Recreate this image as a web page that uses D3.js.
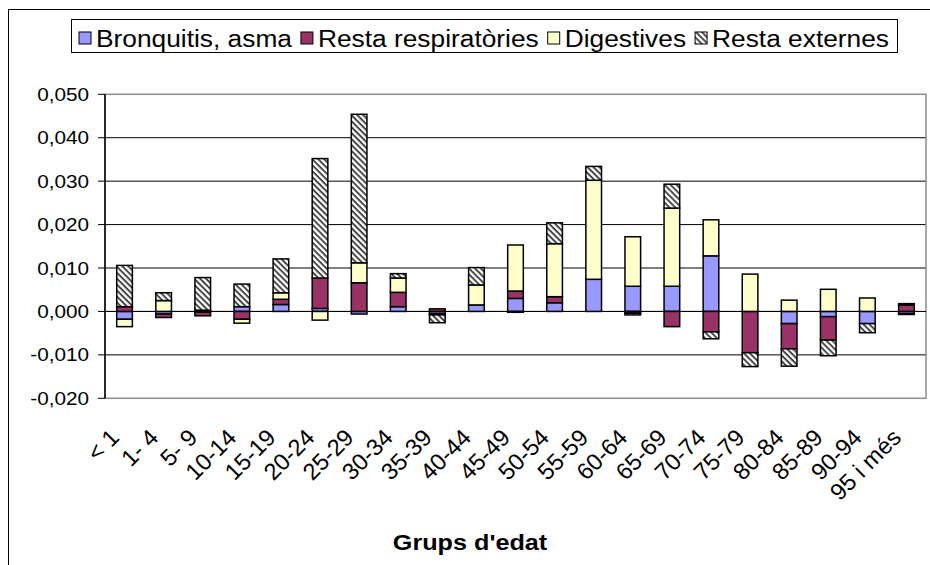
<!DOCTYPE html>
<html>
<head>
<meta charset="utf-8">
<title>Grups d'edat</title>
<script src="https://d3js.org/d3.v7.min.js"></script>
<style>
  body { margin: 0; background: #fff; }
  text { font-family: "Liberation Sans", Arial, sans-serif; fill: #000; }
</style>
</head>
<body>
<div id="chart"></div>
<script>
// age groups (x categories)
var grups = ["< 1", "1- 4", "5- 9", "10-14", "15-19", "20-24", "25-29", "30-34", "35-39", "40-44",
  "45-49", "50-54", "55-59", "60-64", "65-69", "70-74", "75-79", "80-84", "85-89", "90-94", "95 i més"];

// series values
var bronquitis = [-0.0018, -0.0006, -0.0002, 0.0011, 0.0016, 0.0007, -0.0006, 0.0011, -0.0005, 0.0015,
  0.0030, 0.0020, 0.0074, 0.0058, 0.0058, 0.0128, 0, -0.0028, -0.0012, -0.0028, -0.0005];
var respiratories = [0.0011, -0.0008, -0.0008, -0.0018, 0.0012, 0.0070, 0.0066, 0.0033, 0.0006, 0,
  0.0017, 0.0014, 0, -0.0004, -0.0035, -0.0047, -0.0095, -0.0058, -0.0054, 0, 0.0015];
var digestives = [-0.0017, 0.0025, 0.0003, -0.0009, 0.0015, -0.0020, 0.0046, 0.0033, -0.0003, 0.0046,
  0.0106, 0.0122, 0.0228, 0.0114, 0.0180, 0.0083, 0.0086, 0.0026, 0.0051, 0.0031, -0.0002];
var externes = [0.0095, 0.0018, 0.0075, 0.0052, 0.0078, 0.0275, 0.0342, 0.0010, -0.0018, 0.0040,
  -0.0002, 0.0048, 0.0032, -0.0004, 0.0055, -0.0016, -0.0032, -0.0040, -0.0036, -0.0021, 0.0003];

var seriesNames = ["Bronquitis, asma", "Resta respiratòries", "Digestives", "Resta externes"];
var yTicks = [-0.02, -0.01, 0, 0.01, 0.02, 0.03, 0.04, 0.05];

var width = 930, height = 565;
var plotL = 105, plotR = 926, plotT = 94.3, plotB = 398.3;
var stretch = 1.12; // the original text is a bit wider than it is tall

var keys = ["bronq", "resp", "dig", "ext"];
var fills = ["#9999ff", "#993366", "#ffffcc", "url(#hatch)"];

var rows = grups.map(function(g, i) {
  return { grup: g, bronq: bronquitis[i], resp: respiratories[i], dig: digestives[i], ext: externes[i] };
});
var stacked = d3.stack().keys(keys).offset(d3.stackOffsetDiverging)(rows);

var svg = d3.select("#chart").append("svg")
  .attr("width", width)
  .attr("height", height);

// hatch pattern for "Resta externes"
var defs = svg.append("defs");
var pat = defs.append("pattern")
  .attr("id", "hatch")
  .attr("patternUnits", "userSpaceOnUse")
  .attr("width", 4.2)
  .attr("height", 4.2)
  .attr("patternTransform", "rotate(45)");
pat.append("rect").attr("width", 4.2).attr("height", 4.2).attr("fill", "#fff");
pat.append("rect").attr("width", 4.2).attr("height", 1.9).attr("fill", "#444");

// outer chart border
svg.append("rect")
  .attr("x", 8.5).attr("y", 9.5)
  .attr("width", 1000).attr("height", 1000)
  .attr("fill", "none").attr("stroke", "#000");

var x = d3.scaleBand()
  .domain(grups)
  .range([plotL, plotR])
  .paddingInner(0.6)
  .paddingOuter(0.3);

var y = d3.scaleLinear()
  .domain([-0.02, 0.05])
  .range([plotB, plotT]);

var locale = d3.formatLocale({ decimal: ",", thousands: ".", grouping: [3], currency: ["", ""], minus: "-" });
var fmt = locale.format(".3f");

// gridlines
svg.append("g").selectAll("line")
  .data(yTicks.filter(function(t) { return t > -0.02 && t < 0.05; }))
  .enter().append("line")
  .attr("x1", plotL).attr("x2", plotR)
  .attr("y1", function(d) { return y(d); })
  .attr("y2", function(d) { return y(d); })
  .attr("stroke", "#000")
  .attr("stroke-width", 1);

// plot area border
svg.append("rect")
  .attr("x", plotL).attr("y", plotT)
  .attr("width", plotR - plotL).attr("height", plotB - plotT)
  .attr("fill", "none").attr("stroke", "#8c8c8c").attr("stroke-width", 1.5);

// bars
var layer = svg.append("g").selectAll("g")
  .data(stacked)
  .enter().append("g")
  .attr("fill", function(d, i) { return fills[i]; });

layer.selectAll("rect")
  .data(function(d) { return d.filter(function(p) { return p[1] !== p[0]; }); })
  .enter().append("rect")
  .attr("x", function(d) { return x(d.data.grup); })
  .attr("width", x.bandwidth())
  .attr("y", function(d) { return y(Math.max(d[0], d[1])); })
  .attr("height", function(d) { return Math.abs(y(d[0]) - y(d[1])); })
  .attr("stroke", "#000")
  .attr("stroke-width", 1.5);

// zero line (category axis)
svg.append("line")
  .attr("x1", plotL).attr("x2", plotR)
  .attr("y1", y(0)).attr("y2", y(0))
  .attr("stroke", "#000");

// value axis
var yAxis = svg.append("g");
yAxis.append("line")
  .attr("x1", plotL).attr("x2", plotL)
  .attr("y1", plotT).attr("y2", plotB)
  .attr("stroke", "#000").attr("stroke-width", 1.5);
yAxis.selectAll("line.tick")
  .data(yTicks)
  .enter().append("line")
  .attr("class", "tick")
  .attr("x1", plotL - 7).attr("x2", plotL)
  .attr("y1", function(d) { return y(d); })
  .attr("y2", function(d) { return y(d); })
  .attr("stroke", "#000");
yAxis.selectAll("text")
  .data(yTicks)
  .enter().append("text")
  .attr("transform", function(d) { return "translate(89," + (y(d) + 6.6) + ") scale(" + stretch + ",1)"; })
  .attr("text-anchor", "end")
  .style("font-size", "18.5px")
  .text(function(d) { return fmt(d); });

// category labels, rotated 45 degrees
svg.append("g").selectAll("text")
  .data(grups)
  .enter().append("text")
  .attr("transform", function(d) {
    return "translate(" + (x(d) + x.bandwidth() / 2 - 4) + ",439) rotate(-45)";
  })
  .attr("text-anchor", "end")
  .style("font-size", "23.5px")
  .text(function(d) { return d; });

// axis title
svg.append("text")
  .attr("transform", "translate(470,550) scale(" + stretch + ",1)")
  .attr("text-anchor", "middle")
  .style("font-size", "22.5px")
  .style("font-weight", "bold")
  .text("Grups d'edat");

// legend
var legend = svg.append("g");
legend.append("rect")
  .attr("x", 71.5).attr("y", 19.5)
  .attr("width", 826).attr("height", 33)
  .attr("fill", "#fff").attr("stroke", "#000");
var lx = 79;
seriesNames.forEach(function(name, i) {
  legend.append("rect")
    .attr("x", lx).attr("y", 32)
    .attr("width", 12).attr("height", 12)
    .attr("fill", fills[i]).attr("stroke", "#000").attr("stroke-width", 1);
  var t = legend.append("text")
    .attr("transform", "translate(" + (lx + 17) + ",46.5) scale(" + stretch + ",1)")
    .style("font-size", "23.5px")
    .text(name);
  lx += 17 + t.node().getComputedTextLength() * stretch + 9;
});
</script>
</body>
</html>
